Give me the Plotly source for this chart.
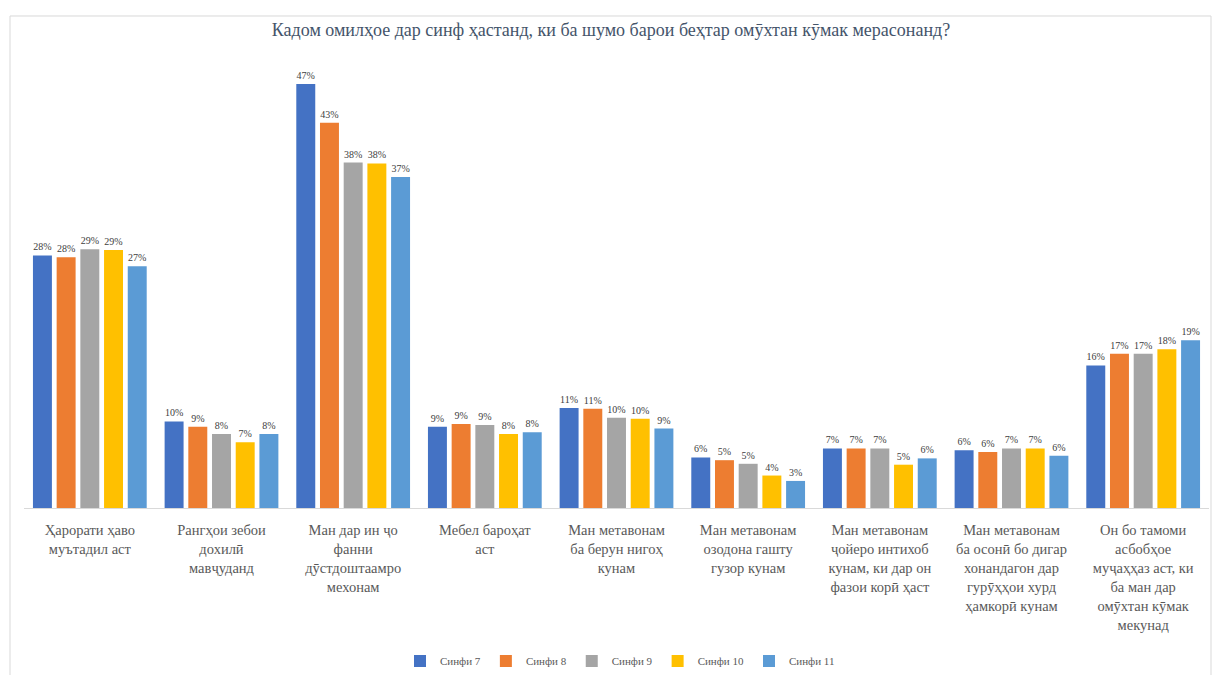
import plotly.graph_objects as go

categories = [
    "Ҳарорати ҳаво<br>муътадил аст",
    "Рангҳои зебои<br>дохилӣ<br>мавҷуданд",
    "Ман дар ин ҷо<br>фанни<br>дӯстдоштаамро<br>мехонам",
    "Мебел бароҳат<br>аст",
    "Ман метавонам<br>ба берун нигоҳ<br>кунам",
    "Ман метавонам<br>озодона гашту<br>гузор кунам",
    "Ман метавонам<br>ҷойеро интихоб<br>кунам, ки дар он<br>фазои корӣ ҳаст",
    "Ман метавонам<br>ба осонӣ бо дигар<br>хонандагон дар<br>гурӯҳҳои хурд<br>ҳамкорӣ кунам",
    "Он бо тамоми<br>асбобҳое<br>муҷаҳҳаз аст, ки<br>ба ман дар<br>омӯхтан кӯмак<br>мекунад",
]

series_names = ["Синфи 7", "Синфи 8", "Синфи 9", "Синфи 10", "Синфи 11"]
grade7 = [28.0, 9.6, 47.0, 9.0, 11.1, 5.6, 6.6, 6.4, 15.8]
grade8 = [27.8, 9.0, 42.7, 9.3, 11.0, 5.3, 6.6, 6.2, 17.1]
grade9 = [28.7, 8.2, 38.3, 9.2, 10.0, 4.9, 6.6, 6.6, 17.1]
grade10 = [28.6, 7.3, 38.2, 8.2, 9.9, 3.6, 4.8, 6.6, 17.6]
grade11 = [26.8, 8.2, 36.7, 8.4, 8.8, 3.0, 5.5, 5.8, 18.6]
series_values = [grade7, grade8, grade9, grade10, grade11]
colors = ["#4472C4", "#ED7D31", "#A5A5A5", "#FFC000", "#5B9BD5"]

title_text = "Кадом омилҳое дар синф ҳастанд, ки ба шумо барои беҳтар омӯхтан кӯмак мерасонанд?"

SERIF = "Liberation Serif"

W, H = 1229, 687          # page height captured, later fitted into 675
K = H / 675.0             # reference px -> figure px (vertical)

def ry(p):
    return p * K

ml, mr = 24, 20
mt = round(ry(56))
mb = H - round(ry(507))
pw = W - ml - mr
ph = H - mt - mb

def px_x(p):
    return (p - ml) / pw

def px_y(p):
    return (H - mb - ry(p)) / ph

fig = go.Figure()
for name, vals, col in zip(series_names, series_values, colors):
    fig.add_trace(go.Bar(
        x=categories, y=vals, name=name,
        marker=dict(color=col, line=dict(width=0)),
        text=[f"{int(v + 0.5)}%" for v in vals],
        textposition="outside",
        constraintext="none",
        cliponaxis=False,
        textfont=dict(family=SERIF, size=10, color="#404040"),
        hoverinfo="skip",
    ))

fig.update_layout(
    width=W, height=H,
    margin=dict(l=ml, r=mr, t=mt, b=mb),
    paper_bgcolor="white", plot_bgcolor="white",
    barmode="group", bargap=0.1, bargroupgap=0.2,
    font=dict(family=SERIF, color="#595959"),
    title=dict(text=title_text, x=px_x(611), xref="paper", xanchor="center",
               y=1 - ry(29) / H, yanchor="middle",
               font=dict(family=SERIF, size=18, color="#44546A")),
    xaxis=dict(showgrid=False, showline=True, linecolor="#D9D9D9", linewidth=1,
               ticks="", tickfont=dict(family=SERIF, size=14.5, color="#595959"),
               tickangle=0, automargin=False, ticklabelstandoff=9),
    yaxis=dict(range=[0, 50], visible=False, automargin=False),
    legend=dict(orientation="h", x=px_x(620), xanchor="center", y=px_y(660), yanchor="middle",
                font=dict(family=SERIF, size=11, color="#595959"),
                itemwidth=30, traceorder="normal"),
    shapes=[dict(type="rect", xref="paper", yref="paper",
                 x0=px_x(10), x1=px_x(1211), y0=px_y(720), y1=px_y(15),
                 line=dict(color="#D9D9D9", width=1), fillcolor="rgba(0,0,0,0)", layer="below")],
)

fig.write_html("out.html", config={"displayModeBar": False},
               post_script="document.body.style.margin='0px';document.body.style.overflow='hidden';")
